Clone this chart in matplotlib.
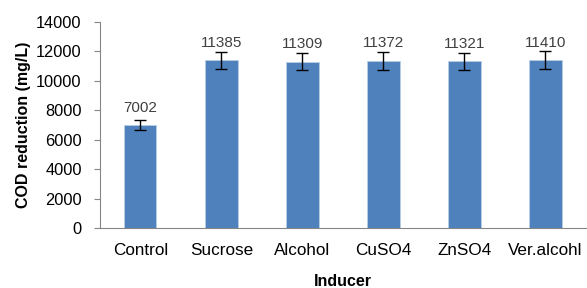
import matplotlib
matplotlib.use("Agg")
from matplotlib import pyplot as plt
import numpy as np

inducers = ["Control", "Sucrose", "Alcohol", "CuSO4", "ZnSO4", "Ver.alcohl"]
cod = [7002, 11385, 11309, 11372, 11321, 11410]
err = [370, 610, 600, 600, 600, 610]
yticks = [0, 2000, 4000, 6000, 8000, 10000, 12000, 14000]

plt.rcParams['font.family'] = ['Liberation Sans', 'DejaVu Sans']

fig = plt.figure(figsize=(5.87, 2.88), dpi=100)
ax = fig.add_axes([0.170, 0.2083, 0.828, 0.7153])

x = np.arange(len(inducers))
ax.bar(x, cod, width=0.4, color='#4F81BD', edgecolor='#B9CDE5', linewidth=0.6,
       yerr=err, capsize=4.3, error_kw=dict(ecolor='black', elinewidth=1, capthick=1))

for xi, v in zip(x, cod):
    ax.annotate(str(v), (xi, v), xytext=(0, 12.5), textcoords='offset points',
                ha='center', va='center', fontsize=11, color='#404040')

ax.set_xlim(-0.5, len(inducers) - 0.5)
ax.set_ylim(0, 14000)
ax.set_yticks(yticks)
ax.set_xticks(x)
ax.set_xticklabels(inducers, fontsize=12.3)
ax.tick_params(axis='y', labelsize=11.8, length=4, color='#868686', width=0.8, pad=9)
ax.tick_params(axis='x', length=0, pad=11)

for s in ['top', 'right']:
    ax.spines[s].set_visible(False)
for s in ['left', 'bottom']:
    ax.spines[s].set_color('#868686')
    ax.spines[s].set_linewidth(0.8)

ax.set_ylabel("COD reduction (mg/L)", fontsize=11.5, fontweight='bold', labelpad=4)
ax.set_xlabel("Inducer", fontsize=11.5, fontweight='bold', labelpad=11)

fig.savefig("out.png", dpi=100)
